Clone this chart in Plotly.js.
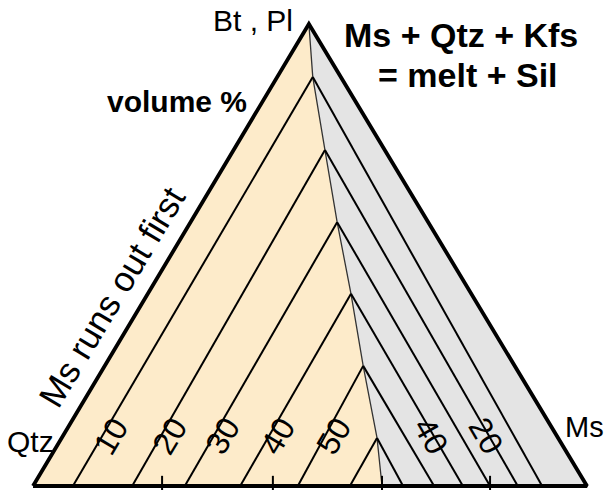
<!DOCTYPE html>
<html><head><meta charset="utf-8">
<script src="https://cdn.plot.ly/plotly-3.0.1.min.js"></script>
<style>html,body{margin:0;padding:0;background:#fff}#chart{width:605px;height:490px}</style>
</head><body><div id="chart"></div>
<script>
// Triangle corners: Qtz, (Bt, Pl), Ms  (x = position along base %, y = height %)
const vertexX = [0, 49.8, 100];
const vertexY = [0, 100, 0];
// Field boundary (Ms runs out first | Qtz runs out first), from apex to base
const dividerX = [49.8, 50.5, 52.7, 54.9, 57.4, 59.6, 62.1, 63.0];
const dividerY = [100, 88.5, 72.7, 57.1, 41.6, 26.0, 10.4, 0];
// Base positions of the melt-volume contours leaving each kink of the boundary
const leftBaseX  = [7.2, 17.9, 27.4, 37.4, 47.8, 57.2];
const rightBaseX = [91.9, 87.5, 82.5, 77.6, 72.4, 66.8];
// Contour labels (volume % melt)
const leftLabels  = ['10', '20', '30', '40', '50'];
const leftLabelLine = [0, 1, 2, 3, 4];
const rightLabels = ['40', '20'];
const rightLabelLine = [3, 1];
// Tick marks on the base
const baseTicks = [23.3, 43.3, 63.0, 82.5];

const FONT = 'Liberation Sans, Arial, Helvetica, sans-serif';
const kinkX = dividerX.slice(1, 7), kinkY = dividerY.slice(1, 7);

// regions
const leftPolyX = [vertexX[0]].concat(dividerX, [vertexX[0]]);
const leftPolyY = [vertexY[0]].concat(dividerY, [vertexY[0]]);
const rightPolyX = dividerX.concat([vertexX[2], dividerX[0]]);
const rightPolyY = dividerY.concat([vertexY[2], dividerY[0]]);

// contour segments
const cx = [], cy = [];
for (let i = 0; i < kinkX.length; i++) {
  cx.push(leftBaseX[i], kinkX[i], null, kinkX[i], rightBaseX[i], null);
  cy.push(0, kinkY[i], null, kinkY[i], 0, null);
}
const tx = [], ty = [];
baseTicks.forEach(t => { tx.push(t, t, null); ty.push(-1.5, 2.2, null); });

const traces = [
  {type:'scatter', mode:'lines', x:leftPolyX, y:leftPolyY, fill:'toself', fillcolor:'#FDEBCA', line:{width:0}, hoverinfo:'skip'},
  {type:'scatter', mode:'lines', x:rightPolyX, y:rightPolyY, fill:'toself', fillcolor:'#E4E4E4', line:{width:0}, hoverinfo:'skip'},
  {type:'scatter', mode:'lines', x:dividerX, y:dividerY, line:{color:'#333333', width:1.3}, hoverinfo:'skip'},
  {type:'scatter', mode:'lines', x:cx, y:cy, line:{color:'#000000', width:2}, hoverinfo:'skip'},
  {type:'scatter', mode:'lines', x:tx, y:ty, line:{color:'#000000', width:2}, hoverinfo:'skip'},
  {type:'scatter', mode:'lines', x:vertexX.concat([vertexX[0]]), y:vertexY.concat([vertexY[0]]), line:{color:'#000000', width:3.8}, hoverinfo:'skip'}
];

function onLine(bx, kx, ky, h) { return bx + (kx - bx) * h / ky; }
const ann = [];
const labH = 10.8;
leftLabels.forEach((t, j) => {
  const i = leftLabelLine[j];
  ann.push({x:onLine(leftBaseX[i], kinkX[i], kinkY[i], labH), y:labH, xref:'x', yref:'y', text:t, showarrow:false,
    textangle:-59, xshift:9, yshift:0, font:{family:FONT, size:32, color:'#000'}});
});
rightLabels.forEach((t, j) => {
  const i = rightLabelLine[j];
  ann.push({x:onLine(rightBaseX[i], kinkX[i], kinkY[i], labH), y:labH, xref:'x', yref:'y', text:t, showarrow:false,
    textangle:60, xshift:-3, yshift:0, font:{family:FONT, size:32, color:'#000'}});
});
function P(px, py) { return {x: px / 605, y: 1 - py / 490, xref:'paper', yref:'paper', showarrow:false, xanchor:'center', yanchor:'middle'}; }
ann.push(Object.assign(P(253, 21), {text:'Bt , Pl', font:{family:FONT, size:30, color:'#000'}}));
ann.push(Object.assign(P(461, 35), {text:'Ms + Qtz + Kfs', font:{family:FONT, size:34, weight:700, color:'#000'}}));
ann.push(Object.assign(P(468, 75), {text:'= melt + Sil', font:{family:FONT, size:34, weight:700, color:'#000'}}));
ann.push(Object.assign(P(177, 101), {text:'volume %', font:{family:FONT, size:30, weight:700, color:'#000'}}));
ann.push(Object.assign(P(111, 297), {text:'Ms runs out first', textangle:-59, font:{family:FONT, size:35, color:'#000'}}));
ann.push(Object.assign(P(30, 441), {text:'Qtz', font:{family:FONT, size:30, color:'#000'}}));
ann.push(Object.assign(P(584, 427), {text:'Ms', font:{family:FONT, size:29, color:'#000'}}));

const layout = {
  width:605, height:490, margin:{l:0, r:0, t:0, b:0},
  paper_bgcolor:'#ffffff', plot_bgcolor:'#ffffff', showlegend:false,
  xaxis:{range:[-5.957, 103.25], visible:false, fixedrange:true},
  yaxis:{range:[-0.866, 105.19], visible:false, fixedrange:true},
  annotations:ann
};
Plotly.newPlot('chart', traces, layout, {displayModeBar:false, staticPlot:true});
</script>
</body></html>
